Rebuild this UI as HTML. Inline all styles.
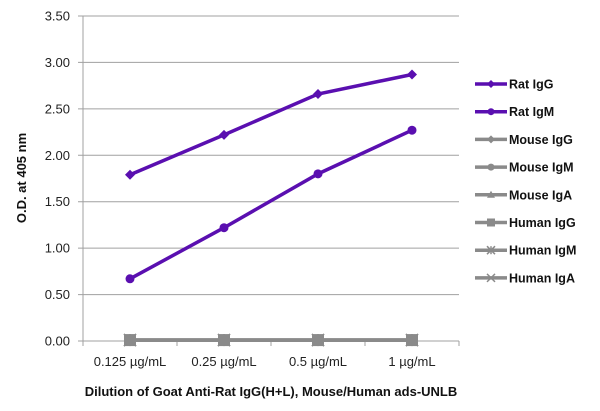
<!DOCTYPE html>
<html><head><meta charset="utf-8"><style>
body{margin:0;background:#fff;}
svg{display:block;font-family:"Liberation Sans",sans-serif;}
</style></head><body>
<svg id="c" width="600" height="411"></svg>
<script>
const categories=["0.125 µg/mL","0.25 µg/mL","0.5 µg/mL","1 µg/mL"];
const yTicks=[0,0.5,1,1.5,2,2.5,3,3.5];
const seriesNames=["Rat IgG","Rat IgM","Mouse IgG","Mouse IgM","Mouse IgA","Human IgG","Human IgM","Human IgA"];
const ratIgG=[1.79,2.22,2.66,2.87];
const ratIgM=[0.67,1.22,1.80,2.27];
const mouseIgG=[0.01,0.01,0.01,0.01];
const mouseIgM=[0.01,0.01,0.01,0.01];
const mouseIgA=[0.01,0.01,0.01,0.01];
const humanIgG=[0.01,0.01,0.01,0.01];
const humanIgM=[0.01,0.01,0.01,0.01];
const humanIgA=[0.01,0.01,0.01,0.01];
const seriesData=[ratIgG,ratIgM,mouseIgG,mouseIgM,mouseIgA,humanIgG,humanIgM,humanIgA];
const markers=["diamond","circle","diamond","circle","triangle","square","star","x"];
const colors=["#5a0fb0","#5a0fb0","#8a8a8a","#8a8a8a","#8a8a8a","#8a8a8a","#8a8a8a","#8a8a8a"];

const NS="http://www.w3.org/2000/svg";
const svg=document.getElementById('c');
const X0=83,X1=459,Y0=341,Y1=16,YMAX=3.5;
const xs=i=>X0+(X1-X0)/categories.length*(i+0.5);
const ys=v=>Y0-(Y0-Y1)*v/YMAX;
function mk(t,a,p){const e=document.createElementNS(NS,t);for(const k in a)e.setAttribute(k,a[k]);(p||svg).appendChild(e);return e;}
function marker(type,x,y,c,g,s){
  s=s||5;
  if(type==="diamond")return mk('polygon',{points:`${x},${y-s} ${x+s},${y} ${x},${y+s} ${x-s},${y}`,fill:c},g);
  if(type==="circle")return mk('circle',{cx:x,cy:y,r:s-0.5,fill:c},g);
  if(type==="triangle")return mk('polygon',{points:`${x},${y-s} ${x+s},${y+s-1} ${x-s},${y+s-1}`,fill:c},g);
  if(type==="square")return mk('rect',{x:x-s,y:y-s,width:2*s,height:2*s,fill:c},g);
  const gg=mk('g',{stroke:c,'stroke-width':1.5},g);
  mk('line',{x1:x-s,y1:y-s,x2:x+s,y2:y+s},gg);mk('line',{x1:x-s,y1:y+s,x2:x+s,y2:y-s},gg);
  if(type==="star")mk('line',{x1:x,y1:y-s,x2:x,y2:y+s},gg);
  return gg;
}
// grid & y labels
yTicks.forEach(v=>{
  const y=ys(v);
  const l=mk('line',{x1:X0-5,x2:X1,y1:y,y2:y,stroke:'#a0a0a0','stroke-width':1});
  
  
  const t=mk('text',{x:70,y:y+4.5,'text-anchor':'end','font-size':13,fill:'#222'});
  t.textContent=v.toFixed(2);
  
  
});
mk('line',{x1:X0,x2:X0,y1:Y1,y2:Y0+5,stroke:'#a0a0a0'});
for(let i=0;i<=categories.length;i++){const x=X0+(X1-X0)/categories.length*i;mk('line',{x1:x,x2:x,y1:Y0,y2:Y0+5,stroke:'#a0a0a0'});}
categories.forEach((c,i)=>{
  const t=mk('text',{x:xs(i),y:366,'text-anchor':'middle','font-size':13,fill:'#222'});
  t.textContent=c;
  
  
});
const xt=mk('text',{x:271,y:396,'text-anchor':'middle','font-size':13,'font-weight':'bold',fill:'#111'});
xt.textContent="Dilution of Goat Anti-Rat IgG(H+L), Mouse/Human ads-UNLB";


const yt=mk('text',{x:0,y:0,'text-anchor':'middle','font-size':13,'font-weight':'bold',fill:'#111',transform:'translate(26,178) rotate(-90)'});
yt.textContent="O.D. at 405 nm";


// series (draw grey first then purple on top)
const order=[7,6,5,4,3,2,1,0];
order.forEach(si=>{
  const g=mk('g',{});
  
  
  const d=seriesData[si];
  mk('polyline',{points:d.map((v,i)=>xs(i)+','+ys(v)).join(' '),fill:'none',stroke:colors[si],'stroke-width':3.5},g);
  d.forEach((v,i)=>marker(markers[si],xs(i),ys(v),colors[si],g,si>=2?6:5));
});
// legend
seriesNames.forEach((n,i)=>{
  const y=84+i*27.7;
  const g=mk('g',{});
  
  
  mk('line',{x1:475,x2:507,y1:y,y2:y,stroke:colors[i],'stroke-width':3.5},g);
  marker(markers[i],491,y,colors[i],g,4);
  const t=mk('text',{x:509,y:y+4.5,'font-size':12.5,'font-weight':'bold',fill:'#111'},g);
  t.textContent=n;
});
</script>
</body></html>
